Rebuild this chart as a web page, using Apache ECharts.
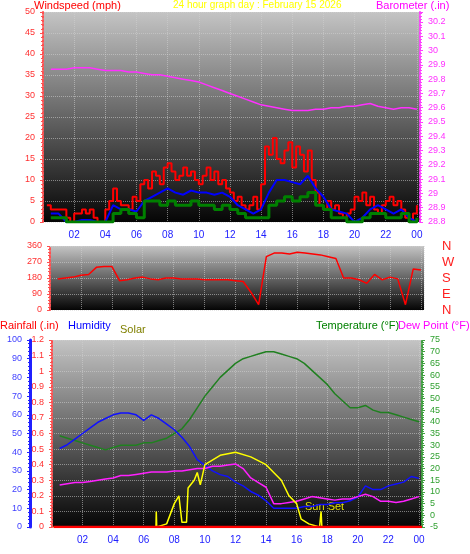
<!DOCTYPE html>
<html><head><meta charset="utf-8">
<script src="https://cdn.jsdelivr.net/npm/echarts@6/dist/echarts.min.js"></script>
<style>html,body{margin:0;background:#fff}#c{width:470px;height:554px}</style>
</head><body><div id="c"></div>
<script>
// quarter-hour gusts from 0.25h
const gust=[4,3,3,3,3,1,0,2,2,3,2,3,1,0,0,3,5,8,5,4,4,3,6,5,9,10,8,12,11,9,13,14,12,10,11,13,11,12,10,9,11,13,10,12,9,10,8,7,5,6,4,3,4,6,3,9,18,16,20,15,14,17,19,13,18,16,12,17,10,7,4,3,5,3,4,2,1,2,3,6,5,7,4,6,3,2,4,5,6,4,5,3,1,0,2,4];
// half-hour series from 0.5h
const windAvg=[2,2,0,0,0.5,0.5,0,0,4,3,3,2.5,5,6,7,8,7,6.5,7.5,7,7,6.5,7,6,4,3,2,3,7,10,10,9.5,9,11,8,6,3,2.5,2,0,1,3,4,3,2,3,1,0];
const windLow=[1,1,0,0,0,0,0,0,2,3,2,1,5,5,4,5,4,4,5,4,4,3,4,3,2,1,1,1,4,5,6,5,6,7,4,3,1,1,0,0,1,2,2,1,1,2,0,1];
const baro=[29.87,29.87,29.87,29.88,29.88,29.88,29.87,29.86,29.86,29.86,29.85,29.85,29.84,29.83,29.83,29.82,29.81,29.80,29.79,29.78,29.76,29.74,29.72,29.70,29.68,29.66,29.64,29.62,29.61,29.60,29.59,29.58,29.58,29.58,29.59,29.59,29.60,29.60,29.61,29.61,29.62,29.63,29.61,29.60,29.59,29.60,29.60,29.59];
const windDir=[175,180,185,195,200,240,245,245,165,170,180,185,175,170,180,180,175,175,175,170,170,170,170,165,160,100,30,300,320,320,315,325,320,315,310,300,290,180,180,170,150,200,170,185,175,30,230,225];
const temp=[34,33,32,31,30,29,28,29,30,30,30,31,31,32,33,35,37,41,46,51,55,59,62,65,67,68,69,70,70,69,68,67,65,62,59,56,52,49,46,46,47,45,44,44,43,42,41,40];
const humid=[42,44,47,50,53,56,58,60,61,61,60,57,60,58,55,52,48,43,36,33,30,28,27,24,22,19,17,14,10,10,10,10,11,11,12,12,13,13,14,16,22,20,20,22,23,24,27,26];
const dew=[13,13.5,14,14,14.5,15,15.5,16,17,17,17.5,18,18.5,18.5,18.5,19,19,19.5,20,20,21,21,21.5,22,20,16,14,12,5,5,5.5,6,7,8,7.5,7,6.5,7,7,8,9,8,6,6,5.5,6,7,8];
const solar=[[0.1,0],[6.8,0],[6.82,0.1],[6.85,0],[7.5,0.02],[8,0.15],[8.3,0.2],[8.5,0.03],[8.8,0.03],[8.9,0.25],[9.3,0.3],[9.5,0.35],[9.7,0.27],[10,0.4],[11,0.46],[12,0.48],[13,0.45],[14,0.4],[15,0.3],[15.5,0.2],[16,0.15],[16.3,0.05],[16.8,0.02],[17.5,0],[17.6,0.1],[17.65,0],[24.2,0]];
const rain=[[0.1,0],[24.2,0]];
const ts=(arr,s,st)=>arr.map((v,i)=>[s+i*st,v]);
const F='Liberation Sans';
const bg={type:'linear',x:0,y:0,x2:0,y2:1,colorStops:[{offset:0,color:'#c4c4c4'},{offset:1,color:'#050505'}]};
const sl={show:true,lineStyle:{color:'rgba(210,210,210,0.55)',type:'dotted'}};
function xa(g,lab){return {type:'value',gridIndex:g,min:0,max:24.2,interval:2,splitLine:sl,axisLine:{show:false},axisTick:{show:false},
 axisLabel:{show:lab,color:'#2020ff',fontFamily:F,fontSize:10,formatter:v=>v==0?'':v==24?'00':String(v).padStart(2,'0')}};}
function ya(g,o){return Object.assign({type:'value',gridIndex:g,splitLine:{show:false},axisTick:{show:true,length:3},minorTick:{show:true,length:2,splitNumber:5},axisLabel:{fontFamily:F,fontSize:9}},o);}
const chart=echarts.init(document.getElementById('c'));
chart.setOption({animation:false,backgroundColor:'#fff',
grid:[{left:43,right:50,top:12,height:210,show:true,backgroundColor:bg,borderWidth:0},
 {left:50,right:46,top:246,height:64,show:true,backgroundColor:bg,borderWidth:0},
 {left:52,right:48,top:340,height:187,show:true,backgroundColor:bg,borderWidth:0}],
xAxis:[xa(0,true),xa(1,false),xa(2,true)],
yAxis:[
 ya(0,{position:'left',min:0,max:50,interval:5,splitLine:sl,axisLine:{show:true,lineStyle:{color:'#ff5050',type:'dotted',width:2}},axisLabel:{color:'#ff3030',fontFamily:F,fontSize:9}}),
 ya(0,{position:'right',min:28.8,max:30.27,interval:0.1,axisLine:{show:true,lineStyle:{color:'#ff40ff',type:'dotted',width:2}},axisLabel:{color:'#ff30ff',fontFamily:F,fontSize:9,formatter:v=>v>30.21?'':(+v.toFixed(1)).toString()}}),
 ya(1,{position:'left',min:0,max:360,interval:90,splitLine:sl,axisLine:{show:true,lineStyle:{color:'#ff5050',type:'dotted',width:2}},axisLabel:{color:'#ff3030',fontFamily:F,fontSize:9}}),
 ya(1,{position:'right',min:0,max:360,interval:90,offset:10,axisLine:{show:false},axisTick:{show:false},minorTick:{show:false},axisLabel:{color:'#ff2020',fontFamily:F,fontSize:13,formatter:v=>({0:'N',90:'E',180:'S',270:'W',360:'N'})[v]}}),
 ya(2,{position:'left',min:0,max:1.2,interval:0.1,splitLine:sl,axisLine:{show:true,lineStyle:{color:'#ff5050',type:'dotted',width:2}},axisLabel:{color:'#ff3030',fontFamily:F,fontSize:9,formatter:v=>(+v.toFixed(1)).toString()}}),
 ya(2,{position:'left',min:0,max:100,interval:10,offset:22,axisLine:{show:true,lineStyle:{color:'#2020ff',width:3}},axisLabel:{color:'#4040ff',fontFamily:F,fontSize:9}}),
 ya(2,{position:'right',min:-5,max:75,interval:5,axisLine:{show:true,lineStyle:{color:'#40a040',type:'dotted',width:2}},axisLabel:{color:'#30a030',fontFamily:F,fontSize:9}}),
 ya(2,{position:'left',min:0,max:1.2,show:false})
],
series:[
 {type:'line',xAxisIndex:0,yAxisIndex:1,data:ts(baro,0.5,0.5),showSymbol:false,lineStyle:{color:'#ff30ff',width:1.5}},
 {type:'line',step:'end',xAxisIndex:0,yAxisIndex:0,data:ts(gust,0.25,0.25),showSymbol:false,lineStyle:{color:'#ff0000',width:2}},
 {type:'line',xAxisIndex:0,yAxisIndex:0,data:ts(windAvg,0.5,0.5),showSymbol:false,lineStyle:{color:'#0000ff',width:2}},
 {type:'line',step:'end',xAxisIndex:0,yAxisIndex:0,data:ts(windLow,0.5,0.5),showSymbol:false,lineStyle:{color:'#008000',width:3}},
 {type:'line',xAxisIndex:1,yAxisIndex:2,data:ts(windDir,0.5,0.5),showSymbol:false,lineStyle:{color:'#ff0000',width:1.5}},
 {type:'line',xAxisIndex:2,yAxisIndex:6,data:ts(temp,0.5,0.5),showSymbol:false,lineStyle:{color:'#208020',width:1.5}},
 {type:'line',xAxisIndex:2,yAxisIndex:5,data:ts(humid,0.5,0.5),showSymbol:false,lineStyle:{color:'#1010ff',width:1.5}},
 {type:'line',xAxisIndex:2,yAxisIndex:6,data:ts(dew,0.5,0.5),showSymbol:false,lineStyle:{color:'#ff20ff',width:1.5}},
 {type:'line',xAxisIndex:2,yAxisIndex:7,data:solar,showSymbol:false,lineStyle:{color:'#ffff00',width:1.5}},
 {type:'line',xAxisIndex:2,yAxisIndex:4,data:rain,showSymbol:false,lineStyle:{color:'#ff0000',width:2.5}}
],
graphic:[
 {type:'text',left:34,top:0,style:{text:'Windspeed (mph)',fill:'#ff0000',font:'11px '+F}},
 {type:'text',left:173,top:0,style:{text:'24 hour graph day : February 15 2026',fill:'#ffff00',font:'10px '+F}},
 {type:'text',left:376,top:0,style:{text:'Barometer (.in)',fill:'#ff00ff',font:'11px '+F}},
 {type:'text',left:0,top:320,style:{text:'Rainfall (.in)',fill:'#ff0000',font:'11px '+F}},
 {type:'text',left:68,top:320,style:{text:'Humidity',fill:'#0000ff',font:'11px '+F}},
 {type:'text',left:120,top:324,style:{text:'Solar',fill:'#808000',font:'11px '+F}},
 {type:'text',left:316,top:320,style:{text:'Temperature (°F)',fill:'#008000',font:'11px '+F}},
 {type:'text',left:398,top:320,style:{text:'Dew Point (°F)',fill:'#ff00ff',font:'11px '+F}},
 {type:'text',left:305,top:501,style:{text:'Sun Set',fill:'#e0e000',font:'11px '+F}}
]});
</script></body></html>
